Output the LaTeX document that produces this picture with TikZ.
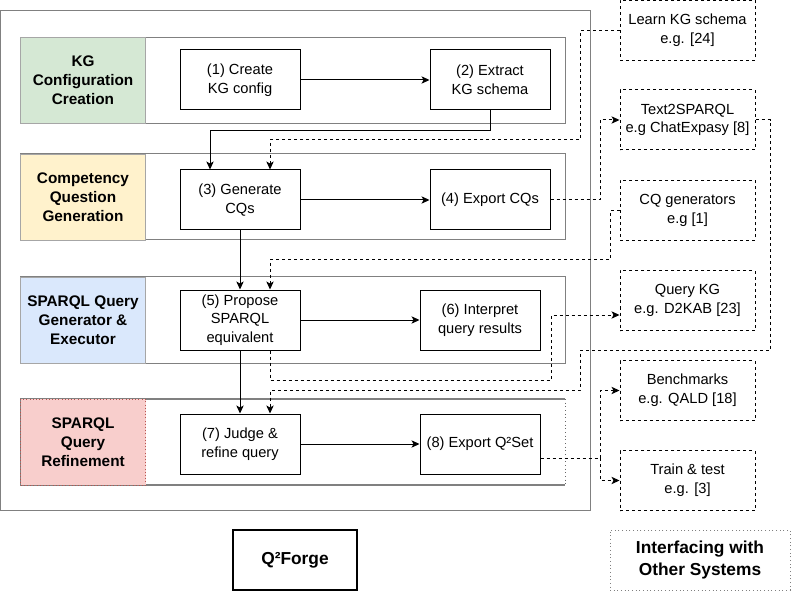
\documentclass[tikz,border=0pt]{standalone}
\usepackage{fontspec}
\setmainfont{Liberation Sans}
\usetikzlibrary{positioning,
        arrows.meta}
\usepackage{xcolor}
\definecolor{kggreen}{HTML}{D5E8D4}
\definecolor{cqyellow}{HTML}{FFF2CC}
\definecolor{sqblue}{HTML}{DAE8FC}
\definecolor{refred}{HTML}{F8CECC}
\definecolor{refline}{HTML}{B85450}
\definecolor{frame}{HTML}{808080}

\begin{document}
\begin{tikzpicture}[x=0.75pt,y=-0.75pt,
        proc/.style={draw, line width=0.75pt, minimum width=90pt, minimum height=45pt, align=center, inner sep=1pt, font=\fontsize{11}{14}\selectfont},
        ext/.style={proc, dash pattern=on 2.25pt off 2.25pt, minimum width=101.25pt},
        stage/.style={draw=frame!70, minimum width=93.75pt, minimum height=64.5pt, align=center, inner sep=1pt, font=\bfseries\fontsize{11.5}{14.3}\selectfont},
        row/.style={draw=frame, line width=0.75pt},
        flow/.style={-{Stealth[length=6pt,width=5.5pt,inset=1.5pt]}, line width=0.75pt},
        link/.style={flow, dash pattern=on 2.25pt off 2.25pt}]
        \useasboundingbox (0,0) rectangle (791,591);

        % frame and stage rows
        \draw[row] (0.5,10.5) rectangle (590,510);
        \draw[row] (20.5,37.5) rectangle (565,123.5);
        \draw[row] (20.5,154) rectangle (565,240);
        \draw[row] (20.5,277) rectangle (565,363);
        \draw[row, line width=1.2pt] (565,399) -- (20.5,399) -- (20.5,485) -- (565,485);
        \draw[frame!80!black, dotted, line width=0.75pt] (565,399) -- (565,485);

        \node [stage, fill=kggreen] (s1) at (83,80.5) {KG\\Configuration\\Creation};
        \node [stage, fill=cqyellow] (s2) at (83,197) {Competency\\Question\\Generation};
        \node [stage, fill=sqblue] (s3) at (83,320) {SPARQL Query\\Generator \&\\Executor};
        \node [stage, fill=refred, draw=refline, dotted] (s4) at (83,442) {SPARQL\\Query\\Refinement};

        % steps
        \node [proc] (p1) at (240,80) {(1) Create\\KG config};
        \node [proc] (p2) at (490,80) {(2) Extract\\KG schema};
        \node [proc] (p3) at (240,200) {(3) Generate\\CQs};
        \node [proc] (p4) at (490,200) {(4) Export CQs};
        \node [proc] (p5) at (240,320) {(5) Propose\\SPARQL\\equivalent};
        \node [proc] (p6) at (480,320) {(6) Interpret\\query results};
        \node [proc] (p7) at (240,444) {(7) Judge \&\\refine query};
        \node [proc] (p8) at (480,444) {(8) Export Q²Set};

        % other systems
        \node [ext] (learn) at (687.5,30.5) {Learn KG schema\\e.g. [24]};
        \node [ext] (t2s) at (687.5,120) {Text2SPARQL\\e.g ChatExpasy [8]};
        \node [ext] (cqg) at (687.5,210.5) {CQ generators\\e.g [1]};
        \node [ext] (qkg) at (687.5,300.5) {Query KG\\e.g. D2KAB [23]};
        \node [ext] (bench) at (687.5,390.5) {Benchmarks\\e.g. QALD [18]};
        \node [ext] (train) at (687.5,480.5) {Train \& test\\e.g. [3]};

        % legend
        \node [draw, line width=1pt, minimum width=93pt, minimum height=45pt, font=\bfseries\fontsize{13}{18}\selectfont] (tool) at (295,560) {Q²Forge};
        \node [draw=frame, dotted, line width=0.75pt, minimum width=135pt, minimum height=45pt, align=center, font=\bfseries\fontsize{13}{17}\selectfont] (iface) at (700,560) {Interfacing with\\Other Systems};

        % bends
        \coordinate (c1) at (580,140);
        \coordinate (c2) at (600,120);
        \coordinate (c3) at (610,260);
        \coordinate (c4) at (551,380);
        \coordinate (c5) at (551,315);
        \coordinate (c6) at (770,350);
        \coordinate (c7) at (580,390);
        \coordinate (c8) at (600,458);

        \draw[flow] (p1) -- (p2);
        \draw[flow] (p2.south) -- ++(0,20) -| ([xshift=-22.5pt]p3.north);
        \draw[link] (learn.west) -| (c1) -| ([xshift=22.5pt]p3.north);
        \draw[flow] (p3) -- (p4);
        \draw[link] (p4.east) -| (c2) -- (t2s.west);
        \draw[link] (cqg.west) -| (c3) -| ([xshift=22.5pt]p5.north);
        \draw[flow] (p3) -- (p5);
        \draw[flow] (p5) -- (p6);
        \draw[link] ([xshift=22.5pt]p5.south) |- (c4) -- (c5) -- (c5 -| qkg.west);
        \draw[link] (t2s.east) -| (c6) -| (c7) -| ([xshift=22.5pt]p7.north);
        \draw[flow] (p5) -- (p7);
        \draw[flow] (p7) -- (p8);
        \draw[link] ([yshift=-10.5pt]p8.east) -- (c8) |- (bench.west);
        \draw[link] (c8) |- (train.west);
\end{tikzpicture}
\end{document}
